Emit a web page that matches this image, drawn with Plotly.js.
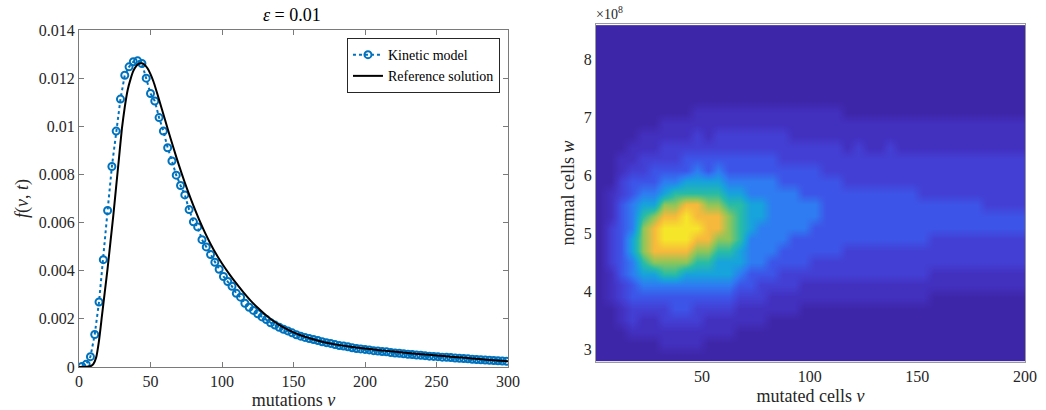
<!DOCTYPE html>
<html>
<head>
<meta charset="utf-8">
<script src="https://cdn.plot.ly/plotly-3.0.1.min.js"></script>
<style>html,body{margin:0;padding:0;background:#fff;}#chart{width:1046px;height:410px;}</style>
</head>
<body>
<div id="chart"></div>
<script>
// ---------- Left panel: f(v,t) ----------
const vKinetic = [2,5,8,11,14,17,20,23,26,29,32,35,38,41,44,47,50,53,56,59,62,65,68,71,74,77,80,83,86,89,92,95,98,101,104,107,110,113,116,119,122,125,128,131,134,137,140,143,146,149,152,155,158,161,164,167,170,173,176,179,182,185,188,191,194,197,200,203,206,209,212,215,218,221,224,227,230,233,236,239,242,245,248,251,254,257,260,263,266,269,272,275,278,281,284,287,290,293,296,299];
const fKinetic = [0.00002,0.00011,0.00043,0.00135,0.0027,0.00446,0.0065,0.00833,0.0098,0.01113,0.01212,0.01247,0.01268,0.01272,0.01261,0.0120,0.01136,0.01105,0.01036,0.0098,0.00911,0.00856,0.00797,0.00754,0.00715,0.00654,0.00603,0.00582,0.00529,0.00499,0.00467,0.00435,0.00406,0.00376,0.00355,0.00335,0.00306,0.0029,0.00265,0.00248,0.00235,0.00221,0.00208,0.00197,0.00184,0.00174,0.00165,0.00157,0.0015,0.00142,0.00134,0.00128,0.00123,0.00118,0.00114,0.0011,0.00105,0.00101,0.00098,0.00093,0.00089,0.00087,0.00084,0.0008,0.00077,0.00075,0.00073,0.00071,0.00068,0.00066,0.00064,0.00063,0.0006,0.00058,0.00057,0.00055,0.00053,0.00052,0.0005,0.00049,0.00047,0.00045,0.00044,0.00043,0.00041,0.0004,0.00039,0.00037,0.00036,0.00035,0.00034,0.00032,0.00031,0.0003,0.00029,0.00028,0.00027,0.00026,0.00025,0.00024];

const vReference = [0,4,8,10,12,14,16,18,20,22,24,26,28,30,32,34,36,38,40,42,44,46,48,50,52,54,56,60,64,68,72,76,80,84,88,92,96,100,105,110,115,120,125,130,135,140,145,150,155,160,165,170,180,190,200,210,220,230,240,250,260,270,280,290,300];
const fReference = [0,0,0.00003,0.00012,0.0004,0.0011,0.0021,0.0031,0.0041,0.0052,0.0063,0.0075,0.0087,0.0099,0.0108,0.0115,0.01195,0.0123,0.0125,0.0126,0.01262,0.01255,0.0124,0.01217,0.01187,0.0115,0.0111,0.0103,0.0095,0.00873,0.008,0.00733,0.0067,0.00612,0.00559,0.00511,0.00468,0.0043,0.00387,0.00347,0.0031,0.00276,0.00246,0.00219,0.00195,0.00175,0.00158,0.00144,0.00132,0.00122,0.00113,0.00105,0.00093,0.00084,0.00077,0.0007,0.00064,0.00058,0.00053,0.00048,0.00043,0.00038,0.00033,0.00028,0.00024];

const leftXTicks = [0,50,100,150,200,250,300];
const leftYTicks = [0,0.002,0.004,0.006,0.008,0.01,0.012,0.014];
const leftYTickText = ['0','0.002','0.004','0.006','0.008','0.01','0.012','0.014'];

// ---------- Right panel: 2D histogram (levels 0-9) ----------
// bin centres of mutated cells v
const vBins = [2.5,7.5,12.5,17.5,22.5,27.5,32.5,37.5,42.5,47.5,52.5,57.5,62.5,67.5,72.5,77.5,82.5,87.5,92.5,97.5,102.5,107.5,112.5,117.5,122.5,127.5,132.5,137.5,142.5,147.5,152.5,157.5,162.5,167.5,172.5,177.5,182.5,187.5,192.5,197.5];
// bin centres of normal cells w (units of 10^8)
const wBins = [2.9,3.1,3.3,3.5,3.7,3.9,4.1,4.3,4.5,4.7,4.9,5.1,5.3,5.5,5.7,5.9,6.1,6.3,6.5,6.7,6.9,7.1,7.3,7.5,7.7,7.9,8.1,8.3,8.5];
// one string per v bin, one digit per w bin (low w -> high w)
const levelColumns = [
 "00000000000000000000000000000",
 "00000111222211100000000000000",
 "00011223333333221100000000000",
 "00122334455444332110000000000",
 "00112345677765432211000000000",
 "00112345788875433211000000000",
 "01122346789987543221100000000",
 "01123346789987643221100000000",
 "01123345789998653321100000000",
 "01122345678988654322110000000",
 "00112345678887653321110000000",
 "00112345567887654322110000000",
 "00112345567776543322110000000",
 "00011234556666543322110000000",
 "00011233444555443322110000000",
 "00011223444455443322110000000",
 "00001123344444443322110000000",
 "00001122334444433222110000000",
 "00001122333444433221110000000",
 "00000112333444333221110000000",
 "00000112233344333221110000000",
 "00000112233333332221110000000",
 "00000112233333332221110000000",
 "00000112223333322211100000000",
 "00000112223333322221100000000",
 "00000112223333322211100000000",
 "00000112223333322211100000000",
 "00000112223333322221100000000",
 "00000112223333322211100000000",
 "00000112223333322211100000000",
 "00000112223333222211100000000",
 "00000011222333222211100000000",
 "00000011222333222211100000000",
 "00000011222333222211100000000",
 "00000011222333222211100000000",
 "00000011222333222211100000000",
 "00000011222332222211100000000",
 "00000011222332222211100000000",
 "00000011222332222211100000000",
 "00000011222332222211100000000"
];
const rightXTicks = [50,100,150,200];
const rightYTicks = [3,4,5,6,7,8];

const zGrid = wBins.map((w, r) => levelColumns.map(col => Number(col[r])));

const BLUE = '#0072BD';
const AX = '#7a7a7a';
const FONT = '"Liberation Serif", "Times New Roman", serif';

const traces = [
  {
    type: 'scatter', mode: 'lines+markers', name: 'Kinetic model',
    x: vKinetic, y: fKinetic, xaxis: 'x', yaxis: 'y',
    line: {color: BLUE, width: 2, dash: 'dot'},
    marker: {symbol: 'circle-open', size: 7, color: BLUE, line: {width: 2, color: BLUE}},
    hoverinfo: 'skip'
  },
  {
    type: 'scatter', mode: 'lines', name: 'Reference solution',
    x: vReference, y: fReference, xaxis: 'x', yaxis: 'y',
    line: {color: '#000000', width: 2, shape: 'spline', smoothing: 0.5},
    hoverinfo: 'skip'
  },
  {
    type: 'heatmap', x: vBins, y: wBins, z: zGrid, xaxis: 'x2', yaxis: 'y2',
    zmin: 0, zmax: 9, zsmooth: 'best', showscale: false, showlegend: false, hoverinfo: 'skip',
    colorscale: [
      [0, '#3e26a8'], [1/9, '#4230bf'], [2/9, '#433fd4'], [3/9, '#3d54e8'],
      [4/9, '#2f7cf2'], [5/9, '#17a3dc'], [6/9, '#28bca6'], [7/9, '#8cc65a'],
      [8/9, '#f6b93c'], [1, '#f6e62a']
    ]
  }
];

const commonAxis = {
  showgrid: false, zeroline: false, showline: true, linecolor: AX, linewidth: 1,
  automargin: false, tickfont: {family: FONT, size: 16, color: '#262626'}
};

const layout = {
  width: 1046, height: 410,
  margin: {l: 79, r: 21, t: 24, b: 43, pad: 0},
  paper_bgcolor: '#ffffff', plot_bgcolor: '#ffffff',
  font: {family: FONT, size: 16, color: '#262626'},
  title: {text: '<i>ε</i> = 0.01', font: {family: FONT, size: 18, color: '#000'},
          xref: 'paper', x: 0.225, xanchor: 'center', yref: 'container', y: 0.963, yanchor: 'middle'},
  showlegend: true,
  legend: {x: 0.445, xanchor: 'right', y: 0.959, yanchor: 'top', bgcolor: '#ffffff',
           bordercolor: '#262626', borderwidth: 1, font: {family: FONT, size: 14, color: '#000'},
           tracegroupgap: 0, itemwidth: 30},
  xaxis: Object.assign({}, commonAxis, {
    domain: [0, 0.4535], range: [0, 300], anchor: 'y',
    tickvals: leftXTicks, ticks: 'inside', ticklen: 5, tickcolor: AX, mirror: 'ticks',
    title: {text: 'mutations <i>v</i>', standoff: 4, font: {family: FONT, size: 18, color: '#262626'}}
  }),
  yaxis: Object.assign({}, commonAxis, {
    domain: [0, 0.9825], range: [0, 0.014], anchor: 'x',
    tickvals: leftYTicks, ticktext: leftYTickText, ticks: 'inside', ticklen: 5, tickcolor: AX, mirror: 'ticks',
    title: {text: '<i>f</i>(<i>v</i>, <i>t</i>)', standoff: 5, font: {family: FONT, size: 18, color: '#262626'}}
  }),
  xaxis2: Object.assign({}, commonAxis, {
    domain: [0.5465, 1], range: [0.7, 200], anchor: 'y2',
    tickvals: rightXTicks, ticks: '', mirror: true, linecolor: '#9a9a9a',
    title: {text: 'mutated cells <i>v</i>', standoff: 5, font: {family: FONT, size: 18, color: '#262626'}}
  }),
  yaxis2: Object.assign({}, commonAxis, {
    domain: [0.01458, 1], range: [2.78, 8.62], anchor: 'x2',
    tickvals: rightYTicks, ticks: '', mirror: true, linecolor: '#9a9a9a',
    title: {text: 'normal cells <i>w</i>', standoff: 4, font: {family: FONT, size: 18, color: '#262626'}}
  }),
  annotations: [
    {text: '×10<sup>8</sup>', xref: 'paper', yref: 'paper', x: 0.5613, y: 1.032,
     xanchor: 'center', yanchor: 'middle', showarrow: false,
     font: {family: FONT, size: 14, color: '#262626'}}
  ]
};

Plotly.newPlot('chart', traces, layout, {displayModeBar: false, staticPlot: true});
</script>
</body>
</html>
